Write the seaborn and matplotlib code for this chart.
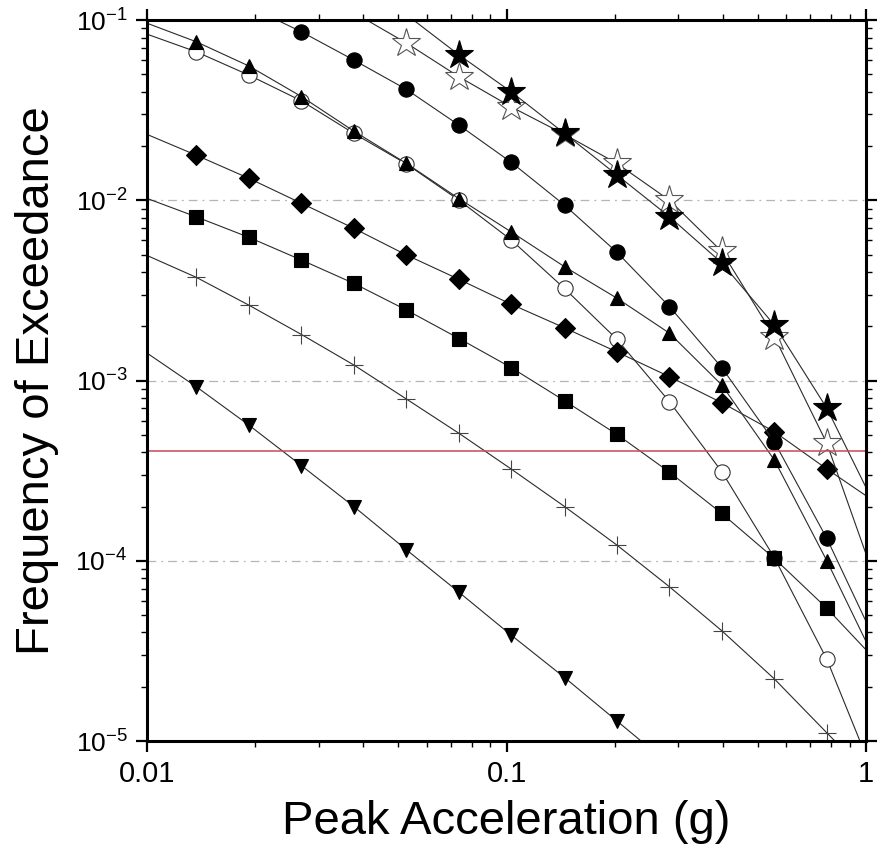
import numpy as np
import pandas as pd
import seaborn as sns
import matplotlib
matplotlib.use("Agg")
import matplotlib.pyplot as plt
from matplotlib.ticker import FixedLocator, FixedFormatter, LogLocator, NullFormatter

nan = np.nan

# peak ground acceleration grid (g)
pga = [0.0098, 0.0137, 0.0192, 0.0269, 0.0376, 0.0527, 0.0738, 0.103,
       0.145, 0.203, 0.284, 0.397, 0.556, 0.778, 1.09]

# annual frequency of exceedance, one list per curve
star_open = [nan, nan, nan, 0.16, 0.11, 0.0745, 0.0484, 0.033, 0.0232, 0.016,
             0.0100, 0.0052, 0.00175, 0.000448, 6.7e-5]
star_filled = [nan, nan, nan, nan, 0.16, 0.107, 0.064, 0.040, 0.0235, 0.0138,
               0.0081, 0.00449, 0.00203, 0.000702, 1.8e-4]
circle_filled = [nan, 0.16, 0.119, 0.086, 0.060, 0.0412, 0.0261, 0.01626, 0.0094,
                 0.00514, 0.00257, 0.00118, 0.000456, 0.000133, 3.2e-5]
circle_open = [0.0847, 0.0667, 0.0495, 0.0356, 0.0235, 0.0159, 0.0100, 0.00603,
               0.00324, 0.00169, 0.000763, 0.000312, 0.000104, 2.84e-5, 5.4e-6]
triangle = [0.0975, 0.0758, 0.0556, 0.0376, 0.0242, 0.016, 0.0102, 0.00668,
            0.00428, 0.00286, 0.00183, 0.000944, 0.000362, 1.0e-4, 2.5e-5]
diamond = [0.0236, 0.0178, 0.01324, 0.00962, 0.00699, 0.00497, 0.00364, 0.00265,
           0.00196, 0.00144, 0.00105, 0.000753, 0.00052, 0.000323, 2.04e-4]
square = [0.0104, 0.0081, 0.00623, 0.00466, 0.00346, 0.00246, 0.00171, 0.00118,
          0.000772, 0.000502, 0.00031, 0.000183, 0.000103, 5.45e-5, 2.67e-5]
plus = [0.00503, 0.00374, 0.00262, 0.0018, 0.00122, 0.000789, 0.000509, 0.000323,
        0.0002, 0.000122, 7.17e-5, 4.09e-5, 2.21e-5, 1.11e-5, 5.6e-6]
tri_down = [0.00146, 0.000925, 0.000566, 0.000337, 0.0002, 0.000115, 6.68e-5,
            3.87e-5, 2.25e-5, 1.29e-5, 7.4e-6, nan, nan, nan, nan]

target_rate = 4.04e-4  # 2% in 50 years

x_ticks = [0.01, 0.1, 1]
x_ticklabels = ["0.01", "0.1", "1"]
y_ticks = [1e-5, 1e-4, 1e-3, 1e-2, 1e-1]
y_ticklabels = [r"$10^{-5}$", r"$10^{-4}$", r"$10^{-3}$", r"$10^{-2}$", r"$10^{-1}$"]

sns.set_theme(style="ticks")
plt.rcParams["font.family"] = ["Liberation Sans", "DejaVu Sans"]
plt.rcParams["mathtext.fontset"] = "custom"
plt.rcParams["mathtext.rm"] = "Liberation Sans"
plt.rcParams["mathtext.default"] = "regular"
plt.rcParams["text.color"] = "black"
plt.rcParams["axes.labelcolor"] = "black"
plt.rcParams["xtick.color"] = "black"
plt.rcParams["ytick.color"] = "black"

fig = plt.figure(figsize=(8.77, 8.49), dpi=100)
ax = fig.add_axes([0.1676, 0.1272, 0.8199, 0.8492])

# drawing order matters where markers overlap
curves = [
    (tri_down, "v", 10, "black", "black"),
    (plus, "+", 13, "black", "#444444"),
    (circle_open, "o", 11, "white", "#333333"),
    (square, "s", 10, "black", "black"),
    (diamond, "D", 10, "black", "black"),
    (triangle, "^", 10.5, "black", "black"),
    (circle_filled, "o", 11, "black", "black"),
    (star_open, "*", 21, "white", "#555555"),
    (star_filled, "*", 21, "black", "black"),
]

for vals, mk, ms, fc, ec in curves:
    df = pd.DataFrame({"pga": pga, "freq": vals}).dropna()
    show = ((df["pga"] > 0.012) & (df["pga"] < 0.9) &
            (df["freq"] <= 0.1) & (df["freq"] >= 1e-5)).tolist()
    sns.lineplot(data=df, x="pga", y="freq", ax=ax, color="#2a2a2a", lw=0.8,
                 marker=mk, markersize=ms, markerfacecolor=fc, mec=ec, mew=0.8,
                 markevery=show, estimator=None, sort=False)

for g in [1e-2, 1e-3, 1e-4]:
    ax.axhline(g, color="#b5b5b5", lw=0.9, ls=(0, (7, 4, 1.5, 4)), zorder=0)
ax.axhline(target_rate, color="#c8485a", lw=1.1)

ax.set_xscale("log")
ax.set_yscale("log")
ax.set_xlim(0.01, 1)
ax.set_ylim(1e-5, 1e-1)

ax.xaxis.set_major_locator(FixedLocator(x_ticks))
ax.xaxis.set_major_formatter(FixedFormatter(x_ticklabels))
ax.xaxis.set_minor_locator(LogLocator(base=10, subs=np.arange(2, 10), numticks=20))
ax.xaxis.set_minor_formatter(NullFormatter())
ax.yaxis.set_major_locator(FixedLocator(y_ticks))
ax.yaxis.set_major_formatter(FixedFormatter(y_ticklabels))
ax.yaxis.set_minor_locator(LogLocator(base=10, subs=np.arange(2, 10), numticks=20))
ax.yaxis.set_minor_formatter(NullFormatter())

ax.tick_params(which="both", direction="out", top=True, right=True, color="black")
ax.tick_params(which="major", length=8, width=1.6)
ax.tick_params(which="minor", length=4, width=1.0)
ax.tick_params(axis="x", labelsize=21, pad=6, labelcolor="black")
ax.tick_params(axis="y", labelsize=19, pad=6, labelcolor="black")

for sp in ax.spines.values():
    sp.set_linewidth(2.2)
    sp.set_color("black")

ax.set_xlabel("Peak Acceleration (g)", fontsize=34, labelpad=8, color="black")
ax.set_ylabel("Frequency of Exceedance", fontsize=34, labelpad=12, color="black")

fig.savefig("out.png", dpi=100)
